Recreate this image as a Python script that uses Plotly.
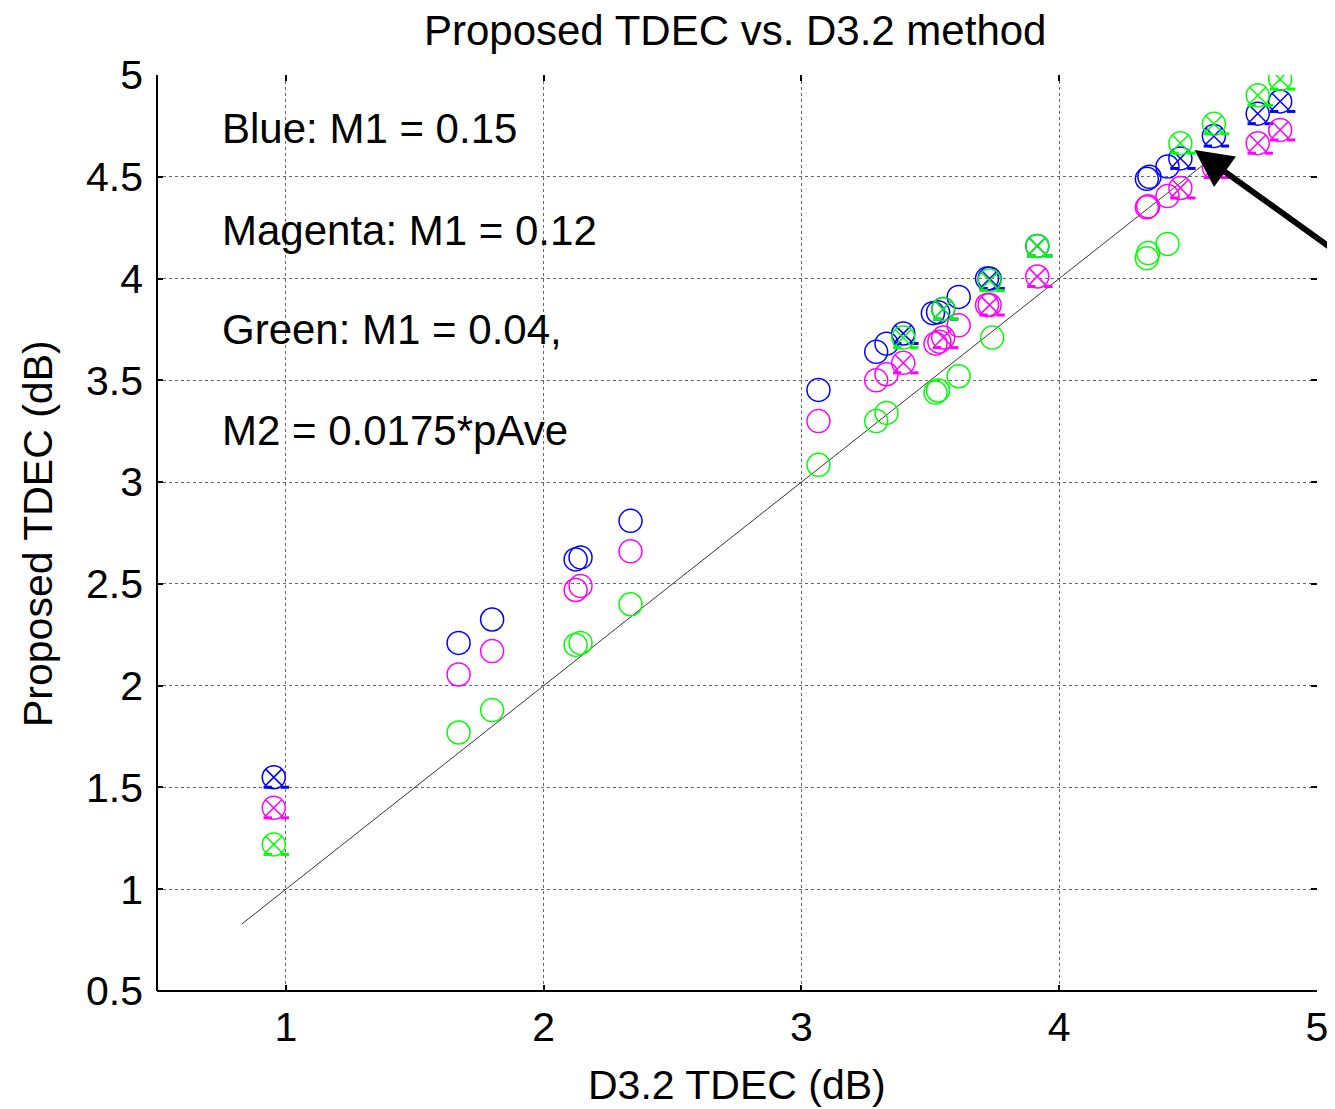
import plotly.graph_objects as go

# ---------------- data ----------------
blue_open_x = [1.67, 1.80, 2.124, 2.143, 2.337, 3.066, 3.29, 3.33, 3.51, 3.53, 3.61, 3.72, 4.34, 4.35, 4.42]
blue_open_y = [2.21, 2.325, 2.62, 2.63, 2.81, 3.453, 3.64, 3.68, 3.83, 3.835, 3.91, 4.00, 4.49, 4.50, 4.55]
blue_x_x = [0.953, 3.395, 3.55, 3.73, 3.915, 4.47, 4.60, 4.77, 4.857]
blue_x_y = [1.55, 3.73, 3.85, 4.00, 4.16, 4.59, 4.70, 4.81, 4.87]

mag_open_x = [1.67, 1.80, 2.124, 2.143, 2.337, 3.066, 3.29, 3.33, 3.52, 3.535, 3.61, 3.72, 4.34, 4.345, 4.42]
mag_open_y = [2.055, 2.17, 2.47, 2.49, 2.66, 3.30, 3.50, 3.53, 3.68, 3.69, 3.77, 3.87, 4.35, 4.355, 4.405]
mag_x_x = [0.953, 3.395, 3.55, 3.73, 3.915, 4.47, 4.60, 4.77, 4.857]
mag_x_y = [1.40, 3.586, 3.71, 3.87, 4.01, 4.445, 4.545, 4.665, 4.73]

grn_open_x = [1.67, 1.80, 2.124, 2.143, 2.337, 3.066, 3.29, 3.33, 3.52, 3.53, 3.61, 3.74, 4.34, 4.345, 4.42]
grn_open_y = [1.77, 1.88, 2.20, 2.21, 2.40, 3.085, 3.30, 3.34, 3.44, 3.45, 3.52, 3.71, 4.10, 4.125, 4.17]
grn_x_x = [0.953, 3.395, 3.55, 3.73, 3.915, 4.47, 4.60, 4.77, 4.857]
grn_x_y = [1.22, 3.71, 3.85, 3.99, 4.16, 4.665, 4.76, 4.90, 4.98]

ref_x = [0.83, 4.57]
ref_y = [0.83, 4.57]

x_ticks = [1, 2, 3, 4, 5]
y_ticks = [0.5, 1, 1.5, 2, 2.5, 3, 3.5, 4, 4.5, 5]
y_tick_text = ["0.5", "1", "1.5", "2", "2.5", "3", "3.5", "4", "4.5", "5"]

title_text = "Proposed TDEC vs. D3.2 method"
x_title = "D3.2 TDEC (dB)"
y_title = "Proposed TDEC (dB)"
notes = ["Blue: M1 = 0.15", "Magenta: M1 = 0.12", "Green: M1 = 0.04,", "M2 = 0.0175*pAve"]
note_y = [4.739, 4.238, 3.748, 3.252]

# ---------------- figure ----------------
FONT = "Liberation Sans, Arial, sans-serif"
BLUE, MAG, GRN = "#0000FF", "#FF00FF", "#00FF00"
MS = 23
LW = 1.5
X_RANGE = [0.5, 5]
Y_RANGE = [0.5, 5]
PLOT_W, PLOT_H = 1160, 916
px_x = (X_RANGE[1] - X_RANGE[0]) / PLOT_W   # data units per pixel
px_y = (Y_RANGE[1] - Y_RANGE[0]) / PLOT_H

fig = go.Figure()
fig.add_trace(go.Scatter(x=ref_x, y=ref_y, mode="lines",
                         line=dict(color="black", width=0.8), hoverinfo="skip"))

for ox, oy, xx, xy, c in [(blue_open_x, blue_open_y, blue_x_x, blue_x_y, BLUE),
                          (mag_open_x, mag_open_y, mag_x_x, mag_x_y, MAG),
                          (grn_open_x, grn_open_y, grn_x_x, grn_x_y, GRN)]:
    fig.add_trace(go.Scatter(x=ox, y=oy, mode="markers",
                             marker=dict(symbol="circle-open", size=MS, color=c,
                                         line=dict(color=c, width=LW))))
    fig.add_trace(go.Scatter(x=xx, y=xy, mode="markers",
                             marker=dict(symbol="circle-x-open", size=MS, color=c,
                                         line=dict(color=c, width=LW))))
    # small tick-like dashes under the crossed markers (rendering artefact in original)
    for off in (-6, 11):
        fig.add_trace(go.Scatter(x=[v + off * px_x for v in xx],
                                 y=[v - 10 * px_y for v in xy], mode="markers",
                                 hoverinfo="skip",
                                 marker=dict(symbol="line-ew", size=6, color=c,
                                             line=dict(color=c, width=3))))

axis_common = dict(
    showline=False, mirror="ticks", ticks="inside", ticklen=6, tickwidth=2,
    tickcolor="black", showgrid=True, gridcolor="#666666", griddash="dot",
    gridwidth=1, zeroline=False, automargin=False, ticklabeloverflow="allow",
    tickfont=dict(family=FONT, size=41, color="black"),
)

fig.update_xaxes(range=X_RANGE, tickvals=x_ticks, ticklabelstandoff=8, **axis_common)
fig.update_yaxes(range=Y_RANGE, tickvals=y_ticks, ticktext=y_tick_text,
                 ticklabelstandoff=13, **axis_common)

# solid left / bottom axis lines
fig.add_shape(type="line", xref="paper", yref="paper", x0=0, x1=0, y0=0, y1=1,
              line=dict(color="black", width=2))
fig.add_shape(type="line", xref="paper", yref="paper", x0=0, x1=1, y0=0, y1=0,
              line=dict(color="black", width=2))

annots = []
for t, yy in zip(notes, note_y):
    annots.append(dict(x=0.745, y=yy, xref="x", yref="y", text=t, showarrow=False,
                       xanchor="left", yanchor="middle",
                       font=dict(family=FONT, size=42, color="black")))
annots.append(dict(x=0.5, y=-0.1026, xref="paper", yref="paper", text=x_title,
                   showarrow=False, xanchor="center", yanchor="middle",
                   font=dict(family=FONT, size=41, color="black")))
annots.append(dict(x=-0.1026, y=0.5, xref="paper", yref="paper", text=y_title,
                   textangle=-90, showarrow=False, xanchor="center", yanchor="middle",
                   font=dict(family=FONT, size=41, color="black")))
# arrow
annots.append(dict(x=4.525, y=4.632, xref="x", yref="y", text="", showarrow=True,
                   ax=155, ay=101, axref="pixel", ayref="pixel",
                   arrowhead=2, arrowsize=1.25, arrowwidth=6, arrowcolor="black"))

fig.update_layout(
    width=1327, height=1101,
    margin=dict(l=149, r=18, t=67, b=118),
    paper_bgcolor="white", plot_bgcolor="white",
    showlegend=False,
    title=dict(text=title_text, x=0.548, xanchor="center", y=1 - 22 / 1101,
               yanchor="middle", font=dict(family=FONT, size=42, color="black")),
    annotations=annots,
)

fig.write_html("out.html")
